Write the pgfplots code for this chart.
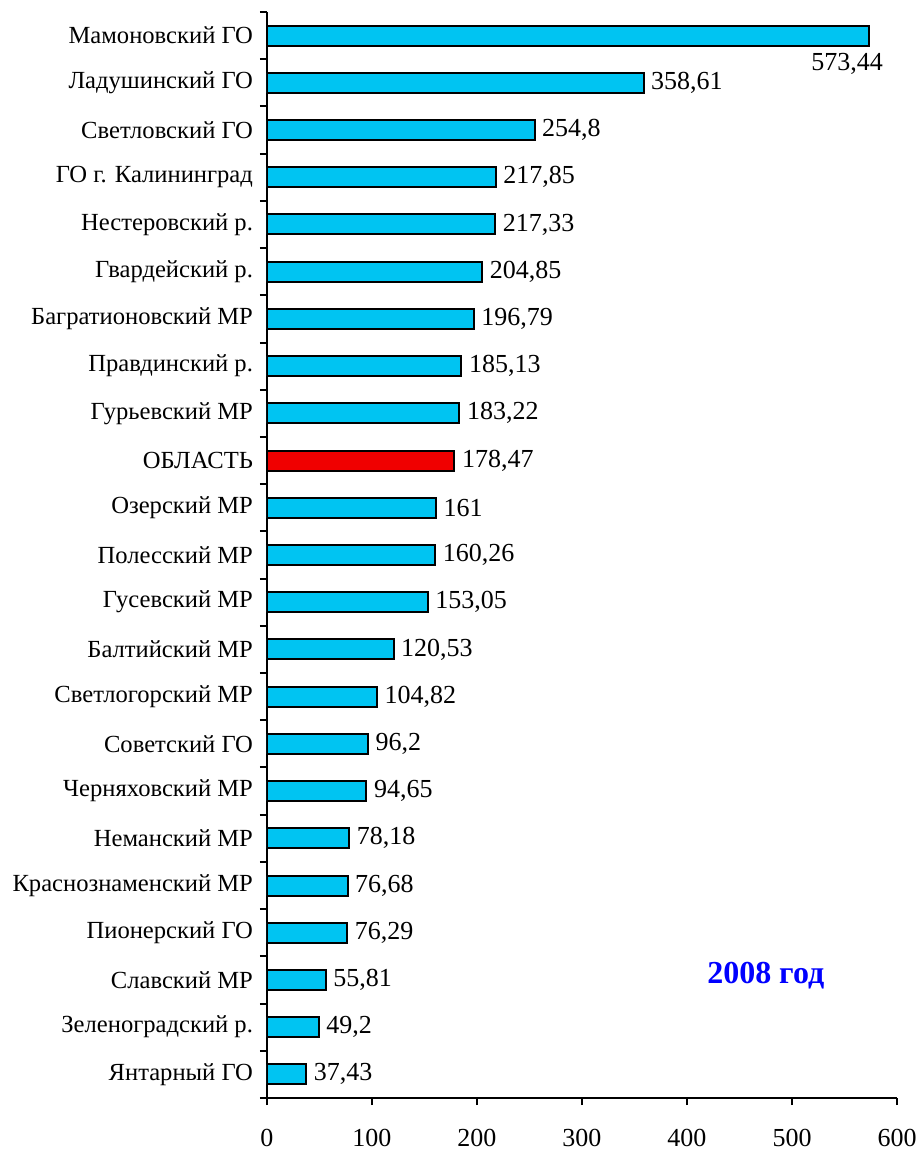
\documentclass[border=0pt]{standalone}
\usepackage{pgfplots}
\pgfplotsset{compat=1.18}
\usepackage{fontspec}
\setmainfont{Liberation Serif}
\definecolor{barcyan}{HTML}{00C4F2}
\definecolor{barred}{HTML}{F00000}
\definecolor{yearblue}{HTML}{0000FF}

\begin{document}
\fontsize{13}{15}\selectfont
\begin{tikzpicture}
\path[use as bounding box] (-133.5pt,-26pt) rectangle (327pt,549pt);
\begin{axis}[
    at={(0,0)}, anchor=south west,
    scale only axis,
    width=315pt, height=543pt,
    xbar, bar width=10pt, bar shift=0pt,
    xmin=0, xmax=600,
    ymin=-0.5, ymax=22.5,
    axis x line*=bottom, axis y line*=left,
    axis line style={line width=1pt, -},
    xtick={0,100,...,600},
    minor xtick={0,100,...,600},
    ytick={0,...,22},
    yticklabels={
        Янтарный ГО, Зеленоградский р., Славский МР, Пионерский ГО,
        Краснознаменский МР, Неманский МР, Черняховский МР, Советский ГО,
        Светлогорский МР, Балтийский МР, Гусевский МР, Полесский МР,
        Озерский МР, ОБЛАСТЬ, Гурьевский МР, Правдинский р.,
        Багратионовский МР, Гвардейский р., Нестеровский р.,
        ГО г. Калининград, Светловский ГО, Ладушинский ГО, Мамоновский ГО},
    minor ytick={-0.5,0.5,...,22.5},
    tick align=outside,
    major tick length=0pt,
    minor tick length=3.5pt,
    every tick/.style={line width=1pt, black},
    xticklabel style={font=\fontsize{13}{15}\selectfont, yshift=-11pt},
    yticklabel style={font=\fontsize{12.3}{14}\selectfont, xshift=-2.5pt},
    /pgf/number format/assume math mode=true,
    nodes near coords,
    nodes near coords style={font=\fontsize{13}{15}\selectfont,
        /pgf/number format/use comma, anchor=west, xshift=-1pt},
    every axis plot/.append style={draw=black, line width=1pt},
]
% cyan bars
\addplot[fill=barcyan]
coordinates {
    (37.43,0) (49.2,1) (55.81,2) (76.29,3) (76.68,4) (78.18,5)
    (94.65,6) (96.2,7) (104.82,8) (120.53,9) (153.05,10) (160.26,11)
    (161,12) (183.22,14) (185.13,15) (196.79,16) (204.85,17)
    (217.33,18) (217.85,19) (254.8,20) (358.61,21)
};
% region average
\addplot[fill=barred] coordinates {(178.47,13)};
% longest bar, label below its end
\addplot[fill=barcyan,
    nodes near coords style={anchor=north, xshift=-10pt, yshift=-4pt}]
coordinates {(573.44,22)};
\node[font=\bfseries\fontsize{16}{18}\selectfont, text=yearblue]
    at (axis cs:475,2.1) {2008 год};
\end{axis}
\end{tikzpicture}
\end{document}
